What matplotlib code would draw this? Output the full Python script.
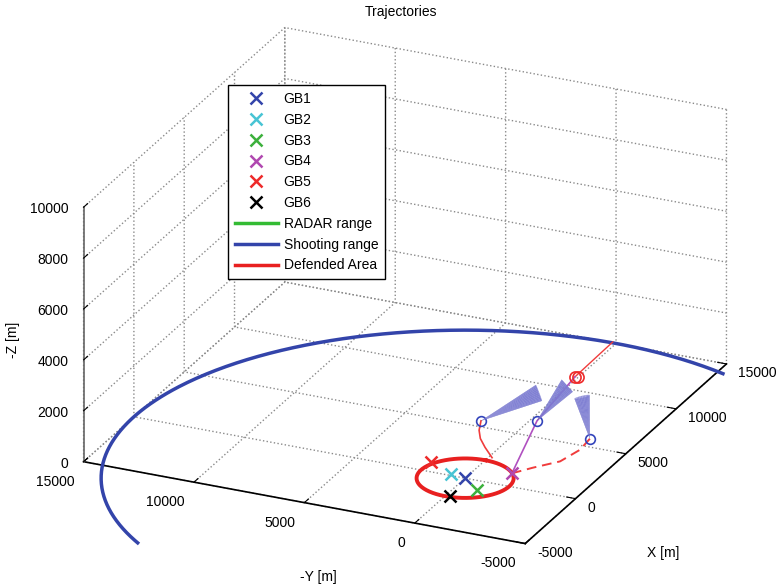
import numpy as np
import matplotlib.pyplot as plt

plt.rcParams['font.family'] = ['Liberation Sans', 'DejaVu Sans']
plt.rcParams['font.size'] = 10
plt.rcParams['grid.linestyle'] = ':'
plt.rcParams['grid.color'] = '#8a8a8a'
plt.rcParams['grid.linewidth'] = 1.0

# ---------------- ground batteries ----------------
gb_names = ['GB1', 'GB2', 'GB3', 'GB4', 'GB5', 'GB6']
gb_colors = ['#3344aa', '#48c4d4', '#3cb03c', '#b048b0', '#ee2a2a', '#000000']
gb_x = [0, 150, -900, 1250, 870, -1860]
gb_y = [0, 700, -950, -1550, 1950, -170]

# ---------------- ranges (centre at origin) ----------------
defended_radius = 2000
shooting_radius = 15000
shooting_arc_deg = (-20.6, 140.4)

# ---------------- trajectories ----------------
# incoming threat up to the intercept point
threat_x = [5700, 4180]
threat_y = [-4090, -3070]
threat_z = [4000, 3000]

# intercept points
hit_x = [4180, 4300]
hit_y = [-3070, -3150]
hit_z = [3000, 2950]

# interceptor fired from GB4
icpt_x = [1250, 3000, 4180]
icpt_y = [-1550, -1890, -3070]
icpt_z = [0, 1500, 3000]

# current track positions
trk_x = [2040, 3000, 3420]
trk_y = [210, -1890, -4090]
trk_z = [1500, 1500, 1000]

# track 1 descent (solid)
fall1_x = [2040, 1960, 2040, 2200, 2350]
fall1_y = [210, 260, 240, 100, -150]
fall1_z = [1500, 1150, 800, 420, 0]

# track 3 predicted descent (dashed)
fall3_x = [3420, 3060, 2350, 1820, 1250]
fall3_y = [-4090, -3810, -3230, -2240, -1550]
fall3_z = [1000, 650, 350, 130, 0]

# velocity cones, apex at the track positions
cone_end_x = [3260, 3940, 3630]
cone_end_y = [-1860, -2830, -3640]
cone_end_z = [2500, 2700, 2500]
cone_radius = 320

xt = [-5000, 0, 5000, 10000, 15000]
yt = [-5000, 0, 5000, 10000, 15000]
zt = [0, 2000, 4000, 6000, 8000, 10000]

fig = plt.figure(figsize=(7.77, 5.87), dpi=100)
ax = fig.add_axes([0.1333, 0.0, 0.7555, 1.0], projection='3d')
ax.set_proj_type('ortho')
ax.view_init(elev=24, azim=-155.5)
ax.set_box_aspect((1, 1, 0.574), zoom=1.225)

for axis in (ax.xaxis, ax.yaxis, ax.zaxis):
    axis.set_pane_color((1, 1, 1, 0))
    axis._axinfo['grid'].update(color='#8a8a8a', linestyle=':', linewidth=1.0)
    axis._axinfo['tick']['inward_factor'] = 0.0
    axis._axinfo['tick']['outward_factor'] = 0.25
    axis.line.set_color('black')
    axis.line.set_linewidth(1.2)
ax.zaxis.line.set_color('#666666')

# defended area and shooting range
t = np.radians(np.linspace(0, 360, 200))
ax.plot(defended_radius * np.cos(t), defended_radius * np.sin(t), 0,
        color='#e82020', lw=2.8, zorder=3)
t = np.radians(np.linspace(shooting_arc_deg[0], shooting_arc_deg[1], 300))
ax.plot(shooting_radius * np.cos(t), shooting_radius * np.sin(t), 0,
        color='#3344aa', lw=2.5, clip_on=False)

# battery markers
for name, c, x, y in zip(gb_names, gb_colors, gb_x, gb_y):
    ax.plot([x], [y], [0], 'x', color=c, ms=9, mew=1.8, label=name, zorder=5)

ax.plot([], [], [], color='#33bb33', lw=2.5, label='RADAR range')
ax.plot([], [], [], color='#3344aa', lw=2.5, label='Shooting range')
ax.plot([], [], [], color='#e82020', lw=2.5, label='Defended Area')

# trajectories
ax.plot(threat_x, threat_y, threat_z, color='#f03c3c', lw=1.0)
ax.plot(icpt_x, icpt_y, icpt_z, color='#b050c0', lw=1.2)
ax.plot(fall1_x, fall1_y, fall1_z, color='#f03c3c', lw=1.2)
ax.plot(fall3_x, fall3_y, fall3_z, color='#f03c3c', lw=1.4, ls=(0, (5, 3)))

# cones
th = np.linspace(0, 2 * np.pi, 30)
s = np.linspace(0, 1, 12)
S, TH = np.meshgrid(s, th)
for ax0, ay0, az0, ex, ey, ez in zip(trk_x, trk_y, trk_z,
                                     cone_end_x, cone_end_y, cone_end_z):
    p0 = np.array([ax0, ay0, az0], float)
    d = np.array([ex, ey, ez], float) - p0
    n = d / np.linalg.norm(d)
    e1 = np.cross(n, [0, 0, 1.0])
    if np.linalg.norm(e1) < 1e-6:
        e1 = np.array([1.0, 0, 0])
    e1 /= np.linalg.norm(e1)
    e2 = np.cross(n, e1)
    X = p0[0] + S * d[0] + S * cone_radius * (np.cos(TH) * e1[0] + np.sin(TH) * e2[0])
    Y = p0[1] + S * d[1] + S * cone_radius * (np.cos(TH) * e1[1] + np.sin(TH) * e2[1])
    Z = p0[2] + S * d[2] + S * cone_radius * (np.cos(TH) * e1[2] + np.sin(TH) * e2[2])
    ax.plot_surface(X, Y, Z, color='#7c7cd2', alpha=0.8, shade=False,
                    linewidth=0, antialiased=True)

ax.plot(trk_x, trk_y, trk_z, 'o', mfc='none', mec='#3344bb', ms=7, mew=1.2)
ax.plot(hit_x, hit_y, hit_z, 'o', mfc='none', mec='#ee2a2a', ms=8, mew=1.2)

ax.set_xticks(xt, labels=[str(v) for v in xt])
ax.set_yticks(yt, labels=[str(v) for v in yt])
ax.set_zticks(zt, labels=[str(v) for v in zt])
ax.set_xlim(-5000, 15000)
ax.set_ylim(-5000, 15000)
ax.set_zlim(0, 10000)

ax.tick_params(axis='x', pad=-2.1)
ax.tick_params(axis='y', pad=2.1)
ax.tick_params(axis='z', pad=-2.9)
for lbl in ax.get_xticklabels():
    lbl.set_ha('left')
    lbl.set_va('center')
for lbl in ax.get_yticklabels():
    lbl.set_ha('right')
    lbl.set_va('center')
for lbl in ax.get_zticklabels():
    lbl.set_ha('right')
    lbl.set_va('center')

# axis names
fig.text(663 / 777, 1 - 553 / 587, 'X [m]', ha='center', va='center')
fig.text(318 / 777, 1 - 577 / 587, '-Y [m]', ha='center', va='center')
fig.text(13 / 777, 1 - 340 / 587, '-Z [m]', ha='center', va='center',
         rotation=90)

ax.legend(loc='upper left', bbox_to_anchor=(228 / 777, 1 - 85 / 587),
          bbox_transform=fig.transFigure, fancybox=False, framealpha=1,
          edgecolor='black', handlelength=3.1, labelspacing=0.49,
          handletextpad=0.4, borderpad=0.5, borderaxespad=0)

fig.text(401 / 777, 1 - 12 / 587, 'Trajectories', ha='center', va='center')

fig.savefig('out.png', dpi=100)
